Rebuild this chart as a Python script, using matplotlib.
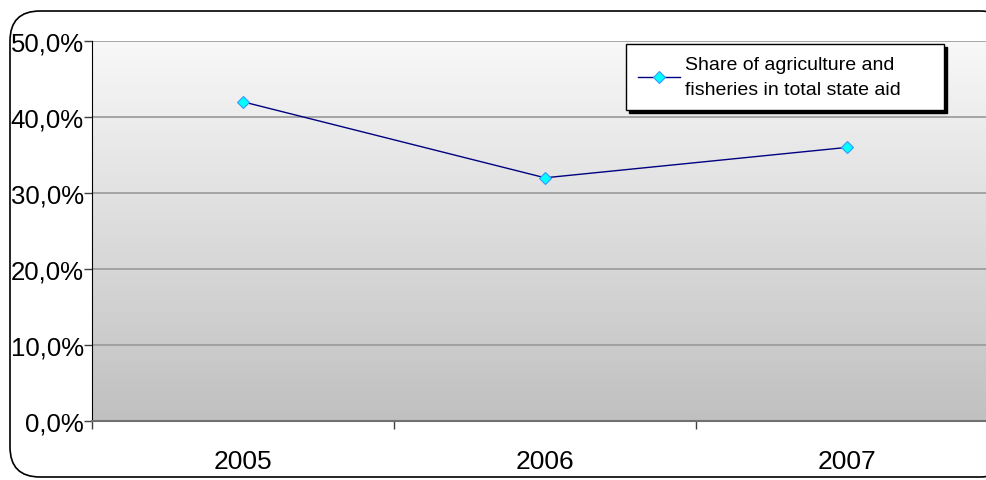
import numpy as np
import matplotlib
matplotlib.use('Agg')
import matplotlib.pyplot as plt
import matplotlib.patches as mpatches
from matplotlib.ticker import FuncFormatter, FixedLocator

plt.rcParams['font.family'] = ['Liberation Sans', 'DejaVu Sans']

# data
years = ['2005', '2006', '2007']
share = [42.0, 32.0, 36.0]
label = 'Share of agriculture and\nfisheries in total state aid'

fig = plt.figure(figsize=(9.87, 4.81), dpi=100)
W, H = 987, 481

# rounded outer frame (pixel coords)
frame = mpatches.FancyBboxPatch((10, 3), 1000, 466,
                                boxstyle='round,pad=0,rounding_size=30',
                                transform=None, facecolor='white',
                                edgecolor='black', lw=1.2, zorder=0)
fig.patches.append(frame)

# plot area: x 92..998, y 42..422 (pixels from top)
ax = fig.add_axes([92 / W, (H - 422) / H, 906 / W, 380 / H])
ax.set_zorder(1)

x = np.arange(len(years))
ax.set_xlim(-0.5, len(years) - 0.5)
ax.set_ylim(0, 50)

# vertical gradient background
grad = np.linspace(0, 1, 256).reshape(-1, 1)
cmap = matplotlib.colors.LinearSegmentedColormap.from_list('g', ['#c0c0c0', '#f8f8f8'])
ax.imshow(grad, aspect='auto', cmap=cmap, origin='lower',
          extent=[-0.5, len(years) - 0.5, 0, 50], zorder=0)

for yv in [10, 20, 30, 40, 50]:
    ax.axhline(yv, color='#999999', lw=1.2, zorder=1)

ax.plot(x, share, color='#000080', lw=1, marker='D', markersize=6,
        markerfacecolor='#00ffff', markeredgecolor='#3399ff',
        markeredgewidth=0.8, label=label, zorder=3)

ax.yaxis.set_major_locator(FixedLocator([0, 10, 20, 30, 40, 50]))
ax.yaxis.set_major_formatter(FuncFormatter(lambda v, p: f'{v:.1f}%'.replace('.', ',')))
ax.set_xticks(x)
ax.set_xticklabels(years)
ax.set_xticks([-0.5, 0.5, 1.5, 2.5], minor=True)
ax.tick_params(axis='x', which='major', length=0, labelsize=19, pad=20)
ax.tick_params(axis='x', which='minor', length=6, width=1, color='#404040')
ax.tick_params(axis='y', length=6, width=1, labelsize=18.5, pad=0, color='#404040')

for s in ['top', 'right']:
    ax.spines[s].set_visible(False)
ax.spines['left'].set_color('black')
ax.spines['bottom'].set_color('#707070')
ax.spines['bottom'].set_linewidth(1.5)

leg = ax.legend(loc='upper left', bbox_to_anchor=(0.5894, 0.821, 0.351, 0.171),
                mode='expand', borderaxespad=0,
                fontsize=14, frameon=True, fancybox=False, handlelength=2.2,
                handletextpad=0.25, borderpad=0.6,
                shadow={'color': 'black', 'alpha': 1})
leg.get_texts()[0].set_linespacing(1.65)
leg.get_frame().set_edgecolor('black')
leg.get_frame().set_linewidth(1)
leg.get_frame().set_alpha(1)

fig.savefig('out.png', dpi=100)
